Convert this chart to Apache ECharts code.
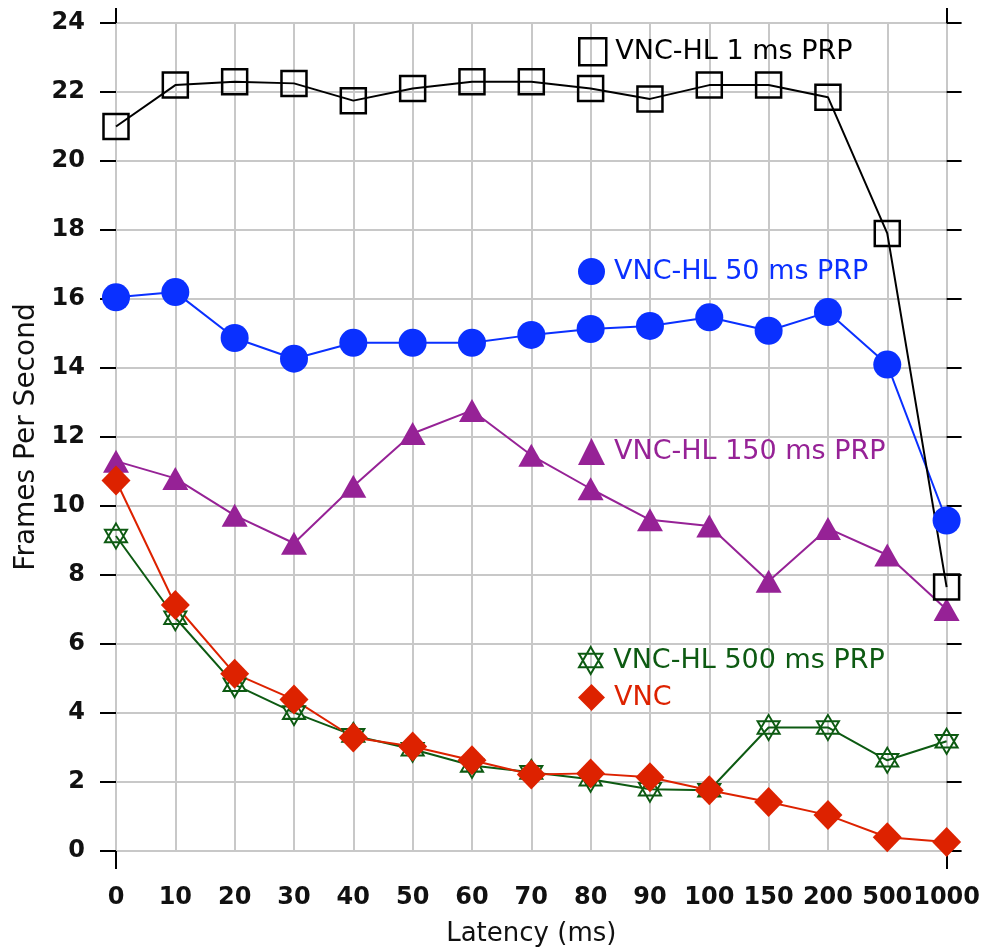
<!DOCTYPE html>
<html>
<head>
<meta charset="utf-8">
<title>Frames Per Second vs Latency</title>
<script src="https://cdn.jsdelivr.net/npm/echarts@6/dist/echarts.min.js"></script>
<style>
  html, body { margin: 0; padding: 0; background: #fff; }
  #chart { width: 983px; height: 952px; }
</style>
</head>
<body>
<div id="chart"></div>
<script>
// latency categories (ms)
const latency = ['0', '10', '20', '30', '40', '50', '60', '70', '80', '90', '100', '150', '200', '500', '1000'];

// frames per second
const prp1 = [21.0, 22.2, 22.3, 22.25, 21.75, 22.1, 22.3, 22.3, 22.1, 21.8, 22.2, 22.2, 21.85, 17.9, 7.65];
const prp50 = [16.05, 16.2, 14.87, 14.27, 14.73, 14.73, 14.73, 14.96, 15.13, 15.22, 15.47, 15.08, 15.62, 14.1, 9.58];
const prp150 = [11.3, 10.8, 9.73, 8.92, 10.57, 12.1, 12.77, 11.47, 10.5, 9.6, 9.42, 7.82, 9.35, 8.58, 7.0];
const prp500 = [9.13, 6.76, 4.82, 4.01, 3.35, 2.95, 2.48, 2.28, 2.08, 1.79, 1.76, 3.58, 3.58, 2.63, 3.18];
const vnc = [10.74, 7.13, 5.14, 4.39, 3.29, 3.03, 2.63, 2.22, 2.25, 2.14, 1.76, 1.42, 1.04, 0.4, 0.26];

const yTicks = { min: 0, max: 24, interval: 2 };

const FONT = 'DejaVu Sans';
const hexagram = 'path://M0,-10L8.66,5L-8.66,5Z M0,10L8.66,-5L-8.66,-5Z';

const colors = {
  black: '#000000',
  blue: '#0a30ff',
  purple: '#962296',
  green: '#0d5a12',
  red: '#dd2200',
};

const makeLegend = (name, top, icon, itemStyle, color) => ({
  data: [name],
  left: 573,
  top: top,
  icon: icon,
  itemWidth: 27,
  itemHeight: 27,
  itemGap: 0,
  itemStyle: itemStyle,
  textStyle: { fontFamily: FONT, fontSize: 27, color: color, padding: [0, 0, 0, 4] },
  selectedMode: false,
});

// hidden frame axes that only carry the corner ticks at both ends
const cornerAxis = (position, length) => ({
  type: 'value',
  position: position,
  min: 0,
  max: latency.length - 1,
  interval: latency.length - 1,
  axisLine: { show: false, onZero: false },
  axisTick: { show: true, length: length, lineStyle: { color: '#000', width: 2 } },
  axisLabel: { show: false },
  splitLine: { show: false },
});

const chart = echarts.init(document.getElementById('chart'));

const option = {
  animation: false,
  backgroundColor: '#ffffff',
  grid: { left: 116, right: 36, top: 23, bottom: 98 },
  legend: [
    makeLegend('VNC-HL 1 ms PRP', 32, 'rect', { color: 'transparent', borderColor: colors.black, borderWidth: 2.5 }, colors.black),
    makeLegend('VNC-HL 50 ms PRP', 253, 'circle', { color: colors.blue }, colors.blue),
    makeLegend('VNC-HL 150 ms PRP', 433, 'triangle', { color: colors.purple }, colors.purple),
    makeLegend('VNC-HL 500 ms PRP', 641, hexagram, { color: '#ffffff', borderColor: colors.green, borderWidth: 2 }, colors.green),
    makeLegend('VNC', 679, 'diamond', { color: colors.red }, colors.red),
  ],
  xAxis: [
    {
      type: 'category',
      data: latency,
      boundaryGap: false,
      name: 'Latency (ms)',
      nameLocation: 'middle',
      nameGap: 70,
      nameTextStyle: { fontFamily: FONT, fontSize: 26, color: '#111' },
      axisLine: { show: false, onZero: false },
      axisTick: { show: false },
      axisLabel: { interval: 0, margin: 35, fontFamily: FONT, fontWeight: 'bold', fontSize: 24, color: '#111' },
      splitLine: { show: true, interval: 0, lineStyle: { color: '#c8c8c8', width: 2 } },
    },
    cornerAxis('bottom', 18),
    cornerAxis('top', 15),
  ],
  yAxis: [
    {
      type: 'value',
      ...yTicks,
      name: 'Frames Per Second',
      nameLocation: 'middle',
      nameGap: 63,
      nameTextStyle: { fontFamily: FONT, fontSize: 28, color: '#111' },
      axisLine: { show: false, onZero: false },
      axisTick: { show: true, length: 16, lineStyle: { color: '#000', width: 2 } },
      axisLabel: { margin: 31, fontFamily: FONT, fontWeight: 'bold', fontSize: 24, color: '#111' },
      splitLine: { show: true, lineStyle: { color: '#c8c8c8', width: 2 } },
    },
    {
      type: 'value',
      ...yTicks,
      position: 'right',
      axisLine: { show: false, onZero: false },
      axisTick: { show: true, length: 15, lineStyle: { color: '#000', width: 2 } },
      axisLabel: { show: false },
      splitLine: { show: false },
    },
  ],
  series: [
    {
      name: 'VNC-HL 500 ms PRP',
      type: 'line',
      data: prp500,
      symbol: hexagram,
      symbolSize: [22, 25],
      lineStyle: { color: colors.green, width: 2 },
      itemStyle: { color: '#ffffff', borderColor: colors.green, borderWidth: 2 },
    },
    {
      name: 'VNC-HL 150 ms PRP',
      type: 'line',
      data: prp150,
      symbol: 'triangle',
      symbolSize: [26, 23],
      lineStyle: { color: colors.purple, width: 2 },
      itemStyle: { color: colors.purple },
    },
    {
      name: 'VNC-HL 50 ms PRP',
      type: 'line',
      data: prp50,
      symbol: 'circle',
      symbolSize: 28,
      lineStyle: { color: colors.blue, width: 2 },
      itemStyle: { color: colors.blue },
    },
    {
      name: 'VNC-HL 1 ms PRP',
      type: 'line',
      data: prp1,
      symbol: 'rect',
      symbolSize: 25,
      lineStyle: { color: colors.black, width: 2 },
      itemStyle: { color: 'transparent', borderColor: colors.black, borderWidth: 2.5 },
    },
    {
      name: 'VNC',
      type: 'line',
      data: vnc,
      symbol: 'diamond',
      symbolSize: [29, 30],
      lineStyle: { color: colors.red, width: 2 },
      itemStyle: { color: colors.red },
    },
  ],
};

chart.setOption(option);
</script>
</body>
</html>
